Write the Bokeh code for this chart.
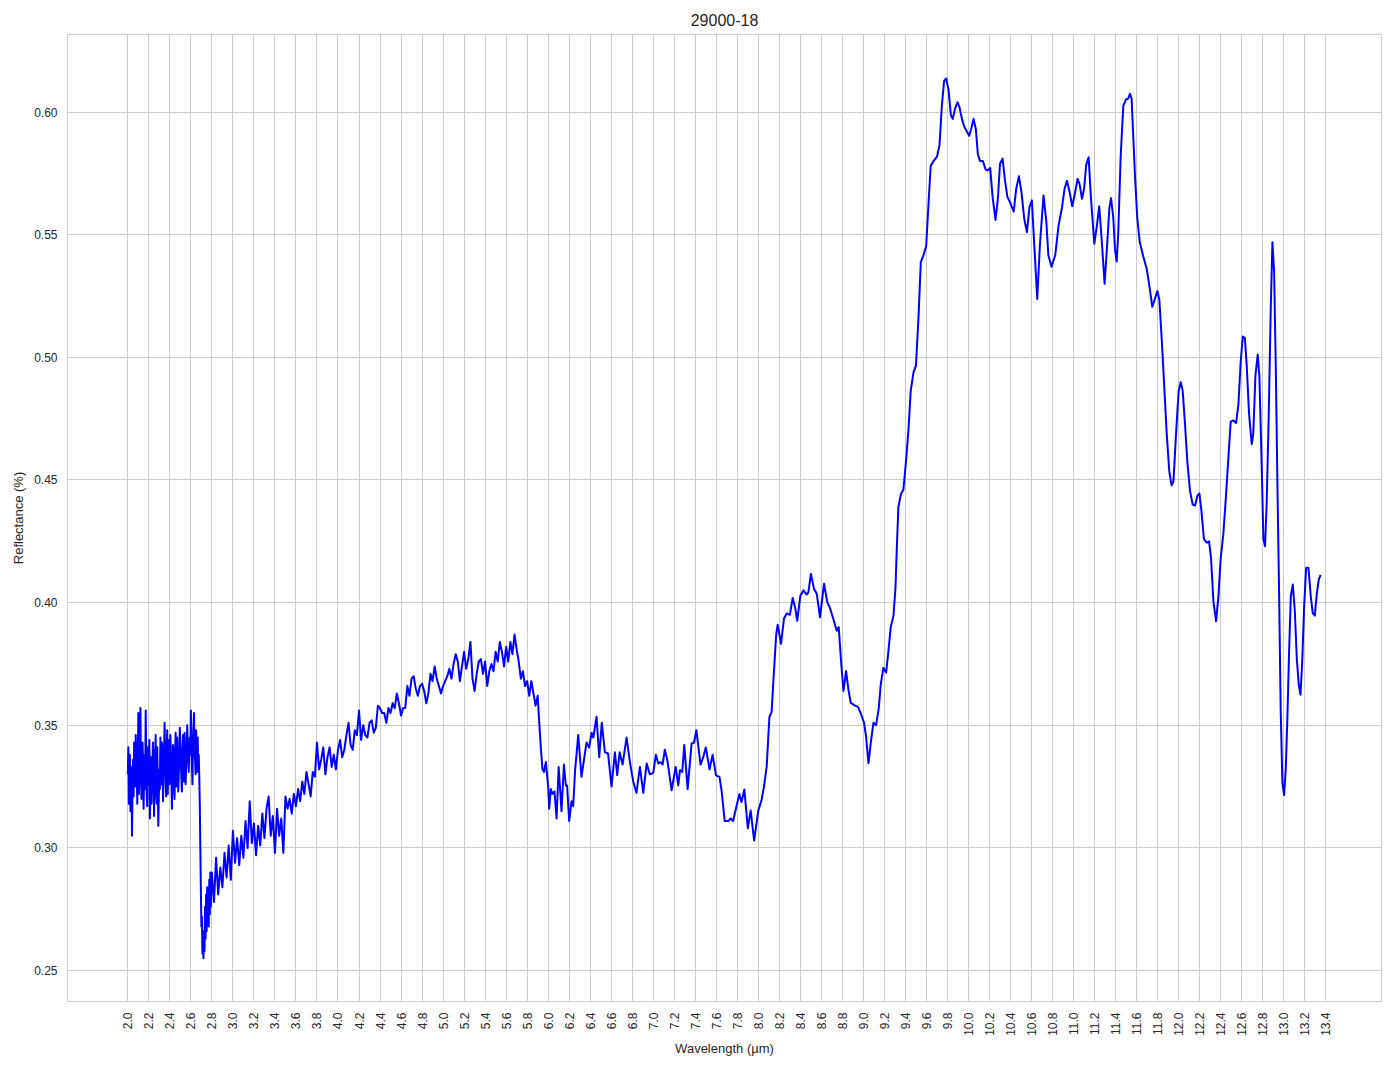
import numpy as np
from bokeh.plotting import figure
from bokeh.models import FixedTicker, PrintfTickFormatter, NumeralTickFormatter, Range1d
from bokeh.embed import file_html
from bokeh.resources import INLINE

TITLE = "29000-18"
X_LABEL = "Wavelength (µm)"
Y_LABEL = "Reflectance (%)"

# --- segment 1: 2.000-2.660 um, sampled every 0.005 um (noisy region)
seg1_start, seg1_step = 2.00, 0.005
seg1_refl = [0.330, 0.341, 0.318, 0.329, 0.338, 0.315, 0.322, 0.333, 0.305, 0.327,
             0.336, 0.321, 0.343, 0.334, 0.325, 0.346, 0.340, 0.331, 0.318, 0.337,
             0.355, 0.322, 0.328, 0.344, 0.357, 0.333, 0.320, 0.329, 0.343, 0.335,
             0.316, 0.330, 0.338, 0.324, 0.356, 0.339, 0.321, 0.317, 0.341, 0.333,
             0.326, 0.344, 0.312, 0.323, 0.337, 0.318, 0.329, 0.336, 0.343, 0.327,
             0.313, 0.340, 0.335, 0.346, 0.322, 0.318, 0.341, 0.328, 0.309, 0.321,
             0.332, 0.324, 0.345, 0.337, 0.326, 0.343, 0.338, 0.319, 0.330, 0.339,
             0.351, 0.336, 0.327, 0.321, 0.340, 0.348, 0.322, 0.334, 0.344, 0.326,
             0.330, 0.346, 0.337, 0.328, 0.316, 0.333, 0.342, 0.336, 0.324, 0.320,
             0.339, 0.347, 0.331, 0.325, 0.345, 0.338, 0.323, 0.330, 0.336, 0.349,
             0.342, 0.335, 0.328, 0.323, 0.340, 0.346, 0.332, 0.327, 0.347, 0.339,
             0.326, 0.333, 0.338, 0.350, 0.343, 0.336, 0.331, 0.342, 0.345, 0.338,
             0.356, 0.343, 0.334, 0.326, 0.341, 0.349, 0.355, 0.339, 0.336, 0.330,
             0.348, 0.340, 0.331]

# --- segment 2: the drop near 2.7 um
seg2_wl = [2.665, 2.67, 2.675, 2.68, 2.685, 2.69, 2.695, 2.70, 2.705, 2.71, 2.715, 2.72, 2.725,
           2.73, 2.735, 2.74, 2.745, 2.75, 2.755, 2.76, 2.765, 2.77, 2.775, 2.78, 2.785, 2.79]
seg2_refl = [0.345, 0.333, 0.338, 0.329, 0.318, 0.300, 0.284, 0.268, 0.272, 0.257, 0.262, 0.255, 0.266,
             0.258, 0.276, 0.263, 0.281, 0.266, 0.284, 0.270, 0.279, 0.268, 0.287, 0.273, 0.290, 0.276]

# --- segment 3: 2.80-5.90 um, sampled every 0.02 um (noisy rising part)
seg3_start, seg3_step = 2.80, 0.02
seg3_refl = [0.290, 0.278, 0.296, 0.281, 0.292, 0.284, 0.298, 0.288, 0.301, 0.287,
             0.307, 0.294, 0.304, 0.293, 0.305, 0.296, 0.311, 0.300, 0.319, 0.302,
             0.310, 0.297, 0.309, 0.301, 0.314, 0.304, 0.316, 0.321, 0.305, 0.313,
             0.298, 0.316, 0.305, 0.312, 0.298, 0.321, 0.316, 0.320, 0.314, 0.322,
             0.317, 0.324, 0.319, 0.327, 0.322, 0.331, 0.326, 0.321, 0.331, 0.329,
             0.343, 0.332, 0.336, 0.341, 0.330, 0.337, 0.341, 0.333, 0.338, 0.332,
             0.340, 0.344, 0.337, 0.340, 0.346, 0.351, 0.342, 0.340, 0.348, 0.346,
             0.356, 0.344, 0.350, 0.346, 0.345, 0.351, 0.352, 0.347, 0.349, 0.358,
             0.357, 0.355, 0.355, 0.351, 0.357, 0.355, 0.359, 0.357, 0.363, 0.359,
             0.354, 0.357, 0.357, 0.366, 0.362, 0.369, 0.370, 0.365, 0.362, 0.366,
             0.367, 0.364, 0.359, 0.363, 0.371, 0.368, 0.374, 0.369, 0.366, 0.363,
             0.366, 0.368, 0.370, 0.373, 0.369, 0.375, 0.379, 0.376, 0.368, 0.374,
             0.380, 0.373, 0.377, 0.384, 0.369, 0.364, 0.371, 0.376, 0.377, 0.371,
             0.376, 0.366, 0.372, 0.375, 0.372, 0.380, 0.376, 0.384, 0.380, 0.374,
             0.382, 0.376, 0.384, 0.379, 0.387, 0.381, 0.376, 0.369, 0.372, 0.366,
             0.368, 0.362, 0.368, 0.363, 0.358, 0.362]

# --- segment 4: 5.91-13.35 um, smoother part (read point by point)
seg4_wl = [5.914, 5.93, 5.946, 5.96, 5.978, 6.00, 6.01, 6.025, 6.04, 6.06, 6.08, 6.10, 6.127, 6.15,
           6.168, 6.18, 6.20, 6.222, 6.238, 6.257, 6.286, 6.317, 6.365, 6.39, 6.413, 6.43, 6.46,
           6.486, 6.51, 6.54, 6.57, 6.603, 6.635, 6.657, 6.68, 6.708, 6.746, 6.778, 6.81, 6.84,
           6.873, 6.905, 6.937, 6.968, 7.0, 7.025, 7.048, 7.07, 7.089, 7.11, 7.133, 7.175, 7.213,
           7.238, 7.254, 7.276, 7.295, 7.327, 7.365, 7.387, 7.41, 7.45, 7.476, 7.5, 7.536, 7.565,
           7.597, 7.63, 7.65, 7.68, 7.714, 7.737, 7.76, 7.79, 7.82, 7.84, 7.867, 7.9, 7.927, 7.96,
           8.0, 8.03, 8.054, 8.08, 8.105, 8.127, 8.143, 8.17, 8.184, 8.216, 8.244, 8.27, 8.30,
           8.327, 8.35, 8.37, 8.40, 8.43, 8.46, 8.476, 8.50, 8.53, 8.556, 8.587, 8.625, 8.657,
           8.68, 8.714, 8.746, 8.765, 8.787, 8.81, 8.835, 8.857, 8.88, 8.92, 8.95, 8.978, 9.006,
           9.025, 9.048, 9.07, 9.095, 9.12, 9.146, 9.165, 9.19, 9.216, 9.235, 9.26, 9.286, 9.305,
           9.32, 9.333, 9.356, 9.38, 9.406, 9.43, 9.45, 9.476, 9.5, 9.524, 9.546, 9.571, 9.597,
           9.62, 9.64, 9.667, 9.7, 9.724, 9.746, 9.768, 9.787, 9.81, 9.832, 9.85, 9.873, 9.895,
           9.914, 9.937, 9.96, 9.984, 10.006, 10.025, 10.048, 10.07, 10.089, 10.11, 10.137,
           10.162, 10.18, 10.206, 10.23, 10.257, 10.28, 10.3, 10.324, 10.346, 10.37, 10.397,
           10.43, 10.454, 10.48, 10.505, 10.53, 10.556, 10.58, 10.603, 10.625, 10.654, 10.68,
           10.714, 10.74, 10.76, 10.79, 10.825, 10.857, 10.89, 10.914, 10.937, 10.96, 10.987,
           11.013, 11.038, 11.057, 11.08, 11.1, 11.12, 11.143, 11.165, 11.197, 11.222, 11.244,
           11.27, 11.295, 11.318, 11.34, 11.356, 11.378, 11.394, 11.41, 11.425, 11.448, 11.473,
           11.498, 11.52, 11.536, 11.552, 11.568, 11.584, 11.606, 11.63, 11.663, 11.695, 11.72,
           11.749, 11.768, 11.797, 11.816, 11.838, 11.86, 11.886, 11.911, 11.933, 11.95, 11.975,
           12.0, 12.02, 12.038, 12.06, 12.083, 12.108, 12.133, 12.156, 12.178, 12.197, 12.216,
           12.24, 12.267, 12.289, 12.308, 12.33, 12.356, 12.378, 12.4, 12.425, 12.45, 12.473,
           12.495, 12.52, 12.546, 12.568, 12.59, 12.61, 12.63, 12.648, 12.67, 12.695, 12.71,
           12.73, 12.752, 12.768, 12.787, 12.806, 12.822, 12.838, 12.857, 12.876, 12.892, 12.908,
           12.924, 12.94, 12.956, 12.971, 12.987, 13.003, 13.019, 13.035, 13.05, 13.067, 13.086,
           13.105, 13.124, 13.143, 13.159, 13.175, 13.194, 13.213, 13.235, 13.257, 13.276,
           13.295, 13.314, 13.333, 13.35]
seg4_refl = [0.352, 0.341, 0.332, 0.331, 0.335, 0.325, 0.316, 0.324, 0.322, 0.323, 0.312, 0.333, 0.315, 0.334,
             0.3255, 0.3255, 0.311, 0.319, 0.317, 0.332, 0.346, 0.329, 0.343, 0.341, 0.347, 0.345, 0.3535,
             0.337, 0.351, 0.339, 0.3385, 0.325, 0.339, 0.3297, 0.339, 0.334, 0.345, 0.335, 0.327, 0.3224,
             0.333, 0.3224, 0.3344, 0.330, 0.3306, 0.338, 0.3344, 0.335, 0.334, 0.340, 0.336, 0.3235, 0.333,
             0.3255, 0.3317, 0.331, 0.342, 0.324, 0.3426, 0.3429, 0.348, 0.334, 0.337, 0.341, 0.332, 0.338,
             0.3296, 0.329, 0.3235, 0.311, 0.311, 0.312, 0.311, 0.3167, 0.322, 0.3187, 0.3238, 0.308, 0.3153, 0.303,
             0.3153, 0.3194, 0.325, 0.3335, 0.3533, 0.3556, 0.368, 0.387, 0.391, 0.3832, 0.3935, 0.3956, 0.395,
             0.4019, 0.398, 0.3926, 0.4029, 0.405, 0.4033, 0.4042, 0.4117, 0.4056, 0.4036, 0.394, 0.4077, 0.400,
             0.398, 0.3933, 0.3885, 0.390, 0.3762, 0.364, 0.3721, 0.3646, 0.3591, 0.358, 0.3574, 0.3544, 0.351,
             0.3455, 0.3346, 0.3428, 0.351, 0.350, 0.357, 0.3667, 0.3735, 0.3715, 0.379, 0.390, 0.3947, 0.406,
             0.425, 0.439, 0.4442, 0.446, 0.458, 0.4713, 0.4863, 0.4938, 0.4966, 0.5163, 0.5388, 0.5416, 0.5453,
             0.563, 0.578, 0.580, 0.5818, 0.5865, 0.6024, 0.6127, 0.6137, 0.609, 0.5987, 0.5972, 0.6015, 0.604,
             0.602, 0.5972, 0.594, 0.5921, 0.5903, 0.593, 0.5972, 0.593, 0.5828, 0.580, 0.580,
             0.5766, 0.5762, 0.5772, 0.565, 0.556, 0.565, 0.579, 0.581, 0.5725, 0.5654, 0.563,
             0.5594, 0.5687, 0.5738, 0.5669, 0.5566, 0.551, 0.5612, 0.564, 0.5463, 0.5238, 0.5463,
             0.566, 0.5556, 0.5416, 0.5369, 0.5416, 0.5537, 0.5612, 0.5687, 0.572, 0.5678, 0.5616,
             0.5669, 0.5728, 0.5706, 0.5646, 0.5687, 0.5785, 0.5815, 0.565, 0.5463, 0.5537, 0.5616,
             0.5463, 0.530, 0.545, 0.5606, 0.5649, 0.5567, 0.544, 0.5391, 0.5508, 0.582, 0.6025,
             0.6051, 0.6055, 0.6074, 0.6055, 0.5899, 0.5742, 0.5567, 0.5469, 0.5411, 0.5362, 0.5294,
             0.5206, 0.5231, 0.527, 0.5235, 0.5079, 0.4903, 0.4689, 0.4533, 0.4478, 0.4494, 0.4689,
             0.4864, 0.4899, 0.4864, 0.4728, 0.4572, 0.4455, 0.440, 0.4396, 0.4435, 0.4445, 0.4377,
             0.426, 0.4244, 0.425, 0.4182, 0.4006, 0.3924, 0.4025, 0.4182, 0.4279, 0.4435, 0.4591,
             0.4738, 0.4743, 0.4732, 0.4806, 0.4981, 0.5085, 0.5079, 0.4962, 0.4767, 0.4646, 0.4689,
             0.4923, 0.5011, 0.4923, 0.4611, 0.426, 0.423, 0.4416, 0.4767, 0.5196, 0.5469, 0.5352,
             0.4962, 0.4474, 0.4025, 0.3557, 0.3264, 0.3216, 0.3323, 0.3538, 0.3791, 0.4025, 0.4074,
             0.3967, 0.3772, 0.3664, 0.3625, 0.3752, 0.3986, 0.4142, 0.4142, 0.4025, 0.3957,
             0.3947, 0.4035, 0.4094, 0.4113]

x_ticks = [round(2.0 + 0.2 * i, 1) for i in range(58)]
y_ticks = [0.25, 0.30, 0.35, 0.40, 0.45, 0.50, 0.55, 0.60]

seg1_wl = list(np.round(seg1_start + seg1_step * np.arange(len(seg1_refl)), 3))
seg3_wl = list(np.round(seg3_start + seg3_step * np.arange(len(seg3_refl)), 3))
wavelength = seg1_wl + seg2_wl + seg3_wl + seg4_wl
reflectance = seg1_refl + seg2_refl + seg3_refl + seg4_refl

FONT = "Liberation Sans"
TXT = "#262626"
GRID = "#cccccc"

p = figure(width=1390, height=1065, output_backend="svg", toolbar_location=None,
           x_range=Range1d(1.426, 13.93), y_range=Range1d(0.2374, 0.6316),
           min_border_left=67, min_border_right=9, min_border_top=34, min_border_bottom=64,
           background_fill_color="white", border_fill_color="white")

p.title.text = TITLE
p.title.align = "center"
p.title.text_font = FONT
p.title.text_font_size = "16px"
p.title.text_font_style = "normal"
p.title.text_color = TXT
p.title.standoff = 18

p.line(wavelength, reflectance, line_color="blue", line_width=2, line_join="round")

p.outline_line_color = GRID
p.outline_line_width = 1

p.xaxis.ticker = FixedTicker(ticks=x_ticks)
p.xaxis.formatter = PrintfTickFormatter(format="%.1f")
p.xaxis.major_label_orientation = np.pi / 2
p.xaxis.major_label_standoff = 11
p.xaxis.axis_label = X_LABEL
p.xaxis.axis_label_standoff = 2

p.yaxis.ticker = FixedTicker(ticks=y_ticks)
p.yaxis.formatter = NumeralTickFormatter(format="0.00")
p.yaxis.major_label_standoff = 10
p.yaxis.axis_label = Y_LABEL
p.yaxis.axis_label_standoff = 5

for ax in (p.xaxis, p.yaxis):
    ax.axis_line_color = None
    ax.major_tick_line_color = None
    ax.minor_tick_line_color = None
    ax.major_tick_out = 0
    ax.major_tick_in = 0
    ax.minor_tick_out = 0
    ax.minor_tick_in = 0
    ax.major_label_text_font = FONT
    ax.major_label_text_font_size = "12px"
    ax.major_label_text_color = TXT
    ax.axis_label_text_font = FONT
    ax.axis_label_text_font_size = "13px"
    ax.axis_label_text_font_style = "normal"
    ax.axis_label_text_color = TXT

p.xgrid.ticker = FixedTicker(ticks=x_ticks)
p.ygrid.ticker = FixedTicker(ticks=y_ticks)
for g in (p.xgrid, p.ygrid):
    g.grid_line_color = GRID
    g.grid_line_width = 1

open("out.html", "w").write(file_html(p, INLINE))
